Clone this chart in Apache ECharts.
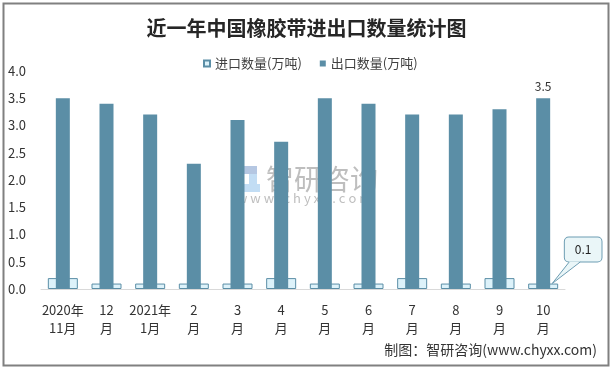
<!DOCTYPE html>
<html><head><meta charset="utf-8">
<script src="https://cdn.jsdelivr.net/npm/echarts@6/dist/echarts.min.js"></script>
<style>html,body{margin:0;padding:0;background:#fff}#c{width:613px;height:369px}</style>
</head><body><div id="c"></div>
<script>
const categories = ['2020年\n11月','12\n月','2021年\n1月','2\n月','3\n月','4\n月','5\n月','6\n月','7\n月','8\n月','9\n月','10\n月'];
const importValues = [0.2,0.1,0.1,0.1,0.1,0.2,0.1,0.1,0.2,0.1,0.2,0.1];
const exportValues = [3.5,3.4,3.2,2.3,3.1,2.7,3.5,3.4,3.2,3.2,3.3,3.5];
const seriesNames = ['进口数量(万吨)','出口数量(万吨)'];
const yTicks = [0,0.5,1,1.5,2,2.5,3,3.5,4];

const font = '"Noto Sans CJK SC", "Noto Sans", sans-serif';
const dark = '#5b8ea6';
const calloutFill = '#eaf6f8';
const calloutStroke = '#6d9db3';
const chart = echarts.init(document.getElementById('c'), null, {renderer:'canvas'});
const lastIdx = categories.length - 1;

const baseGraphics = [
  {type:'rect', z:-1, silent:true, shape:{x:3.5,y:3.5,width:605,height:362},
    style:{fill:null, stroke:'#808080', lineWidth:2}},
  {type:'group', z:100, silent:true, children:[
    {type:'rect', shape:{x:237,y:166,width:7,height:26}, style:{fill:'rgba(90,130,190,0.45)'}},
    {type:'rect', shape:{x:244,y:166,width:13,height:8}, style:{fill:'rgba(90,130,190,0.45)'}},
    {type:'rect', shape:{x:249,y:174,width:8,height:10}, style:{fill:'rgba(120,180,230,0.45)'}},
    {type:'rect', shape:{x:244,y:184,width:16,height:8}, style:{fill:'rgba(120,180,230,0.45)'}},
    {type:'text', style:{x:266, y:165, text:'智研咨询', font:'28px '+font, fill:'rgba(110,110,110,0.45)'}},
    {type:'text', style:{x:237, y:192, text:'w w w . c h y x x . c o m', font:'13px '+font, fill:'rgba(110,110,110,0.45)'}}
  ]},
  {type:'text', z:10, style:{x:597, y:343, text:'制图：智研咨询(www.chyxx.com)', textAlign:'right',
    font:'14px '+font, fill:'#333'}}
];

chart.setOption({
  animation:false,
  backgroundColor:'#fff',
  textStyle:{fontFamily:font},
  title:{text:'近一年中国橡胶带进出口数量统计图', left:'center', top:13,
    textStyle:{fontSize:20, fontWeight:'bold', color:'#262626', fontFamily:font}},
  legend:{left:198, top:52, itemWidth:6, itemHeight:6, itemGap:18,
    textStyle:{fontSize:13, color:'#404040', fontFamily:font},
    data:[{name:seriesNames[0], icon:'rect'},{name:seriesNames[1], icon:'rect'}]},
  grid:{left:41, right:48, top:71, bottom:80, containLabel:false},
  xAxis:[
    {type:'category', data:categories,
      axisLine:{lineStyle:{color:'#d9d9d9', width:1}}, axisTick:{show:false},
      axisLabel:{fontSize:13, color:'#333', lineHeight:18, margin:12, interval:0, fontFamily:font}},
    {type:'category', data:categories, show:false}
  ],
  yAxis:{type:'value', min:yTicks[0], max:yTicks[yTicks.length-1], interval:0.5,
    splitLine:{show:false}, axisLine:{show:false}, axisTick:{show:false},
    axisLabel:{fontSize:13, color:'#333', margin:15, formatter:v=>v.toFixed(1), fontFamily:font}},
  series:[
    {name:seriesNames[0], type:'bar', barWidth:30, z:2, xAxisIndex:0,
      itemStyle:{color:'#ddf2fa', borderColor:dark, borderWidth:1},
      data:importValues.map((v,i)=> i===lastIdx ? {value:v, label:{show:true}} : v),
      label:{show:false, position:'top', formatter:p=>p.value.toFixed(1), fontSize:12, color:'#222',
        backgroundColor:calloutFill, borderColor:calloutStroke, borderWidth:1, borderRadius:4,
        padding:[6,10,6,10]},
      labelLayout:function(p){ return {dx:40, dy:-17}; }
    },
    {name:seriesNames[1], type:'bar', barWidth:14, z:3, xAxisIndex:1,
      itemStyle:{color:dark},
      data:exportValues.map((v,i)=> i===lastIdx ? {value:v, label:{show:true}} : v),
      label:{show:false, position:'top', distance:6, formatter:p=>p.value.toFixed(1), fontSize:12, color:'#333'}
    }
  ],
  graphic:baseGraphics
});

// speech-bubble pointer for the callout, positioned via the chart's own scale
const pt = chart.convertToPixel({seriesIndex:0}, [lastIdx, importValues[lastIdx]]);
const tip = [pt[0]+9, pt[1]];
const boxBottom = pt[1]-22;
chart.setOption({graphic:baseGraphics.concat([
  {type:'polygon', z:200, silent:true, shape:{points:[tip,[pt[0]+26,boxBottom],[pt[0]+37,boxBottom]]},
    style:{fill:calloutFill, stroke:null}},
  {type:'polyline', z:201, silent:true, shape:{points:[[pt[0]+26,boxBottom+0.5],tip,[pt[0]+37,boxBottom+0.5]]},
    style:{fill:null, stroke:calloutStroke, lineWidth:1}}
])});
</script></body></html>
